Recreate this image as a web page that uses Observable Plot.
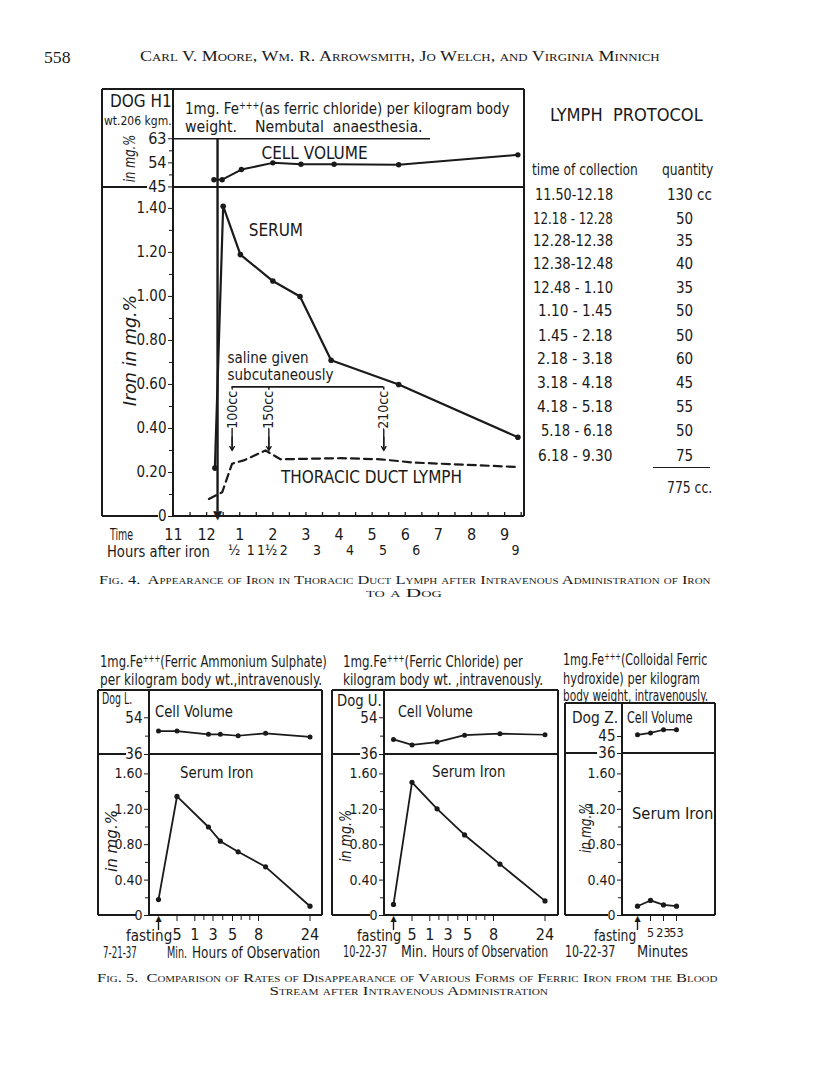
<!DOCTYPE html>
<html><head><meta charset="utf-8">
<script src="https://cdn.jsdelivr.net/npm/d3@7"></script>
<script src="https://cdn.jsdelivr.net/npm/@observablehq/plot@0.6"></script>
<style>
body{margin:0;background:#fff;}
#page{position:relative;width:816px;height:1078px;overflow:hidden;background:#fff;color:#1a1a1a;}
.abs{position:absolute;white-space:pre;line-height:1;}
.ln{position:absolute;background:#1a1a1a;}
sup{font-size:0.6em;vertical-align:0.55em;line-height:0;}
</style></head><body><div id="page"></div>
<script>
// ---------------- DATA ----------------
// Fig. 4 — Dog H1 (clock time in hours, 24 h)
const fig4CellTime   = [12.22, 12.47, 13.05, 14.0, 14.85, 15.85, 17.8, 21.4];
const fig4CellVolume = [47.7, 47.7, 51.5, 54.0, 53.5, 53.5, 53.3, 57.0];
const fig4SerumTime  = [12.25, 12.5, 13.02, 14.0, 14.82, 15.76, 17.8, 21.4];
const fig4SerumIron  = [0.22, 1.41, 1.19, 1.07, 1.00, 0.71, 0.60, 0.36];
const fig4LymphTime  = [12.07, 12.47, 12.77, 13.12, 13.78, 14.23, 16.05, 17.25, 18.26, 21.4];
const fig4LymphIron  = [0.08, 0.11, 0.24, 0.255, 0.30, 0.26, 0.265, 0.26, 0.245, 0.225];
const ironGivenAt = 12.33;
const salineTime = [12.77, 13.88, 17.35];
const salineLabels = ["100cc", "150cc", "210cc"];
const clockTicks = [11, 12, 13, 14, 15, 16, 17, 18, 19, 20, 21];
const clockLabels = ["11", "12", "1", "2", "3", "4", "5", "6", "7", "8", "9"];
const hoursAfterIron = [0.5, 1, 1.5, 2, 3, 4, 5, 6, 9];
const hoursAfterIronLabels = ["½", "1", "1½", "2", "3", "4", "5", "6", "9"];
const fig4CellTicks = [45, 54, 63];
const fig4SerumTicks = [0, 0.2, 0.4, 0.6, 0.8, 1.0, 1.2, 1.4];

// Lymph protocol
const protocolPeriods = ["11.50-12.18", "12.18 - 12.28", "12.28-12.38", "12.38-12.48", "12.48 - 1.10", "1.10 - 1.45", "1.45 - 2.18", "2.18 - 3.18", "3.18 - 4.18", "4.18 - 5.18", "5.18 - 6.18", "6.18 - 9.30"];
const protocolQuantity = ["130 cc", "50", "35", "40", "35", "50", "50", "60", "45", "55", "50", "75"];
const protocolTotal = "775 cc.";

// Fig. 5 — hours of observation (-1 = fasting)
const fastingHour = -1;
const obsTicks = [5 / 60, 1, 3, 5, 8, 24];
const obsTickLabels = ["5", "1", "3", "5", "8", "24"];
const obsMinorTicks = [2, 4, 6, 7];
const dogLTime  = [-1, 5 / 60, 2.5, 3.75, 5.65, 10.2, 24];
const dogLCell  = [47.5, 47.5, 45.9, 45.9, 45.2, 46.4, 44.6];
const dogLSerum = [0.18, 1.345, 1.0, 0.84, 0.72, 0.55, 0.105];
const dogUTime  = [-1, 5 / 60, 1.8, 4.7, 10, 24];
const dogUCell  = [43.4, 40.7, 42.1, 45.5, 46.2, 45.7];
const dogUSerum = [0.125, 1.505, 1.205, 0.91, 0.58, 0.165];
const dogZMinutes = ["fasting", "5", "23", "53"];
const dogZCell  = [45.9, 46.9, 48.6, 48.6];
const dogZSerum = [0.105, 0.17, 0.12, 0.105];
const fig5SerumTicks = [0, 0.4, 0.8, 1.2, 1.6];
const fig5SerumMinor = [0.2, 0.6, 1.0, 1.4];

// ---------------- HELPERS ----------------
const INK = "#1a1a1a";
const HAND = '"Liberation Sans Narrow","DejaVu Sans Condensed","Arial Narrow","Liberation Sans",sans-serif';
const SERIF = '"Liberation Serif","DejaVu Serif",serif';
const page = document.getElementById("page");
const STYLE = {background: "transparent", overflow: "visible", fontFamily: HAND, fontSize: "15px", color: INK};
const rows = (xs, ys) => xs.map((x, i) => ({x, y: ys[i]}));
const fmtIron = d => d === 0 ? "0" : d.toFixed(2);

function txt(html, x, y, o = {}) {
  const size = o.size ?? 14;
  const el = document.createElement("div");
  el.className = "abs";
  el.innerHTML = html;
  el.style.fontSize = size + "px";
  el.style.fontFamily = o.family ?? HAND;
  if (o.italic) el.style.fontStyle = "italic";
  if (o.weight) el.style.fontWeight = o.weight;
  if (o.sc) el.style.fontVariant = "small-caps";
  page.appendChild(el);
  const w0 = el.offsetWidth, h0 = el.offsetHeight;
  const k = o.w ? o.w / w0 : 1;
  const anchor = o.anchor ?? "start";
  if (o.rotate) {
    el.style.left = (x - w0 / 2) + "px";
    el.style.top = (y - h0 / 2) + "px";
    el.style.transformOrigin = "50% 50%";
    el.style.transform = `rotate(${o.rotate}deg) scaleX(${k})`;
  } else {
    const left = anchor === "start" ? x : anchor === "middle" ? x - w0 / 2 : x - w0;
    el.style.left = left + "px";
    el.style.top = (y - h0 / 2) + "px";
    el.style.transformOrigin = anchor === "start" ? "0 50%" : anchor === "middle" ? "50% 50%" : "100% 50%";
    if (k !== 1) el.style.transform = `scaleX(${k})`;
  }
  return el;
}
function hline(x1, x2, y, w = 1.7) {
  const d = document.createElement("div"); d.className = "ln";
  Object.assign(d.style, {left: x1 + "px", top: (y - w / 2) + "px", width: (x2 - x1) + "px", height: w + "px"});
  page.appendChild(d);
}
function vline(x, y1, y2, w = 1.7) {
  const d = document.createElement("div"); d.className = "ln";
  Object.assign(d.style, {left: (x - w / 2) + "px", top: y1 + "px", width: w + "px", height: (y2 - y1) + "px"});
  page.appendChild(d);
}
function put(svg, left, top) {
  svg.style.position = "absolute";
  svg.style.left = left + "px";
  svg.style.top = top + "px";
  page.appendChild(svg);
}

// ---------------- PAGE HEADER ----------------
txt("558", 44, 57, {size: 17, family: SERIF, w: 27});
txt("Carl V. Moore, Wm. R. Arrowsmith, Jo Welch, and Virginia Minnich", 140, 57, {size: 14, family: SERIF, sc: true, w: 520});

// ---------------- FIG. 4 ----------------
hline(102, 524, 89);
vline(102, 89, 516);
vline(524, 89, 516);
vline(173, 89, 516);
hline(102, 147, 187); hline(173, 524, 187);
hline(102, 158, 516); hline(173, 524, 516);

const cellRows4 = rows(fig4CellTime, fig4CellVolume);
const serumRows4 = rows(fig4SerumTime, fig4SerumIron);
const lymphRows4 = rows(fig4LymphTime, fig4LymphIron);

put(Plot.plot({
  width: 422, height: 98, marginLeft: 71, marginRight: 0, marginTop: 0, marginBottom: 0,
  x: {domain: [11, 21.6], axis: null}, y: {domain: [44.8, 81.4], label: null},
  style: STYLE,
  marks: [
    Plot.axisY({ticks: fig4CellTicks, tickSize: 5, tickPadding: 2, fontSize: 16, label: null}),
    Plot.axisY({ticks: [49.5, 58.5], tickFormat: () => "", tickSize: 4, label: null}),
    Plot.ruleY([63], {x1: 11, x2: 18.76, strokeWidth: 1.6, stroke: INK}),
    Plot.ruleX([ironGivenAt], {y1: 63, y2: 44.8, strokeWidth: 2.4, stroke: INK}),
    Plot.line(cellRows4, {x: "x", y: "y", strokeWidth: 2, stroke: INK}),
    Plot.dot(cellRows4, {x: "x", y: "y", r: 2.7, fill: INK}),
    Plot.text(["CELL VOLUME"], {x: [15.26], y: [57.4], fontSize: 17, fill: INK})
  ]
}), 102, 89);

put(Plot.plot({
  width: 422, height: 379, marginLeft: 71, marginRight: 0, marginTop: 0, marginBottom: 50,
  x: {domain: [11, 21.6]}, y: {domain: [0, 1.495], label: null},
  style: STYLE,
  marks: [
    Plot.axisY({ticks: fig4SerumTicks, tickFormat: fmtIron, tickSize: 5, tickPadding: 2, fontSize: 15, label: null}),
    Plot.axisY({ticks: d3.range(0.1, 1.45, 0.2), tickFormat: () => "", tickSize: 4, label: null}),
    Plot.axisX({ticks: clockTicks, tickFormat: d => clockLabels[clockTicks.indexOf(d)], tickSize: 0, tickPadding: 12, fontSize: 16, label: null}),
    Plot.axisX({ticks: hoursAfterIron.map(h => ironGivenAt + h), tickFormat: d => hoursAfterIronLabels[d3.minIndex(hoursAfterIron, h => Math.abs(ironGivenAt + h - d))], tickSize: 0, tickPadding: 29, fontSize: 14, label: null}),
    Plot.ruleX(d3.range(11.5, 21.6, 0.5), {y1: 0, y2: 0.018, strokeWidth: 1.3, stroke: INK}),
    Plot.ruleX([ironGivenAt], {y1: 0.02, y2: 1.495, strokeWidth: 2.4, stroke: INK}),
    Plot.text(["▼"], {x: [ironGivenAt], y: [0], lineAnchor: "bottom", fontSize: 12, fontFamily: "DejaVu Sans", fill: INK, dy: 2}),
    // saline given subcutaneously
    Plot.ruleY([0.589], {x1: salineTime[0], x2: salineTime[2], strokeWidth: 1.6, stroke: INK}),
    Plot.ruleX(salineTime, {y1: 0.589, y2: 0.31, strokeWidth: 1.4, stroke: INK}),
    Plot.arrow(salineTime, {x1: d => d, x2: d => d, y1: 0.36, y2: 0.30, headLength: 7, strokeWidth: 1.4, stroke: INK}),
    Plot.text(salineTime, {x: d => d, y: 0.485, text: (d, i) => salineLabels[i], rotate: -90, fontSize: 14, stroke: "white", strokeWidth: 5, fill: INK}),
    Plot.text(["saline given"], {x: [12.63], y: [0.72], textAnchor: "start", fontSize: 15, fill: INK}),
    Plot.text(["subcutaneously"], {x: [12.63], y: [0.64], textAnchor: "start", fontSize: 15, fill: INK}),
    // curves
    Plot.line(lymphRows4, {x: "x", y: "y", strokeWidth: 2.2, strokeDasharray: "8,5", stroke: INK}),
    Plot.line(serumRows4, {x: "x", y: "y", strokeWidth: 2.2, stroke: INK}),
    Plot.dot(serumRows4, {x: "x", y: "y", r: 2.8, fill: INK}),
    Plot.text(["SERUM"], {x: [13.27], y: [1.30], textAnchor: "start", fontSize: 17, fill: INK}),
    Plot.text(["THORACIC DUCT LYMPH"], {x: [16.98], y: [0.175], fontSize: 17, fill: INK})
  ]
}), 102, 187);

txt("DOG H1", 110, 101, {size: 17, w: 62});
txt("wt.206 kgm.", 104, 121, {size: 12, w: 68});
txt("in mg.%", 130, 158, {size: 15, italic: true, rotate: -90, w: 47});
txt("Iron in mg.%", 131, 350, {size: 17, italic: true, rotate: -90, w: 112});
txt("1mg. Fe<sup>+++</sup>(as ferric chloride) per kilogram body", 185, 109, {size: 16, w: 325});
txt("weight.    Nembutal  anaesthesia.", 185, 127, {size: 16, w: 238});
txt("Time", 110, 535, {size: 16, w: 23});
txt("Hours after iron", 107, 552, {size: 16, w: 103});

// Lymph protocol
txt("LYMPH  PROTOCOL", 550, 115, {size: 17, w: 153});
txt("time of collection", 532, 170, {size: 15, w: 106});
txt("quantity", 662, 170, {size: 15, w: 51});
const protocolRowY = [195, 219, 241.7, 264, 288, 311.7, 336, 359.5, 383, 407.5, 431.5, 456];
const protocolLeft = [535, 533, 533, 533, 533, 538, 538, 537, 537, 537, 541, 538];
protocolPeriods.forEach((p, i) => txt(p, protocolLeft[i], protocolRowY[i], {size: 15, w: 613 - protocolLeft[i]}));
protocolQuantity.forEach((q, i) => i === 0
  ? txt(q, 667, protocolRowY[i], {size: 15, w: 45})
  : txt(q, 684.5, protocolRowY[i], {size: 15, anchor: "middle"}));
hline(653, 710, 467.7, 1.5);
txt(protocolTotal, 667, 488, {size: 15, w: 45});

txt("Fig. 4.  Appearance of Iron in Thoracic Duct Lymph after Intravenous Administration of Iron", 99, 580, {size: 13.5, family: SERIF, sc: true, w: 612});
txt("to a Dog", 404, 593, {size: 13.5, family: SERIF, sc: true, anchor: "middle", w: 76});

// ---------------- FIG. 5 ----------------
const obsOffsets = [0, 9, 27.5, 45.3, 63.5, 83, 109, 160.5];
function obsX(mL, frameW) {
  return {
    type: "linear",
    domain: [-1.53, fastingHour, 5 / 60, 1, 3, 5, 8, 24, 24 + (frameW - 160.5) / 3.22],
    range: [...obsOffsets, frameW].map(o => mL + o)
  };
}

function panel({left, axis, right, top, divider, bottom, label36End, label0End, x, cell, serum, cellTop, cellTicks, cellMinor, xTicks, xTickFormat, xMinor, xFont, fasting}) {
  hline(left, right, top);
  vline(left, top, bottom);
  vline(right, top, bottom);
  vline(axis, top, bottom);
  hline(left, label36End, divider); hline(axis, right, divider);
  hline(left, label0End, bottom); hline(axis, right, bottom);
  const width = right - left, mL = axis - left;
  const xs = x(mL, right - axis);
  put(Plot.plot({
    width, height: divider - top, marginLeft: mL, marginRight: 0, marginTop: 0, marginBottom: 0,
    x: {...xs, axis: null}, y: {domain: [36, cellTop], label: null}, style: STYLE,
    marks: [
      Plot.axisY({ticks: cellTicks, tickSize: 5, tickPadding: 2, fontSize: 15, label: null}),
      Plot.axisY({ticks: cellMinor, tickFormat: () => "", tickSize: 4, label: null}),
      Plot.line(cell, {x: "x", y: "y", strokeWidth: 1.7, stroke: INK}),
      Plot.dot(cell, {x: "x", y: "y", r: 2.5, fill: INK})
    ]
  }), left, top);
  const h = bottom - divider;
  put(Plot.plot({
    width, height: h + 48, marginLeft: mL, marginRight: 0, marginTop: 0, marginBottom: 48,
    x: xs, y: {domain: [0, h / 88.5], label: null}, style: STYLE,
    marks: [
      Plot.axisY({ticks: fig5SerumTicks, tickFormat: fmtIron, tickSize: 5, tickPadding: 2, fontSize: 14, label: null}),
      Plot.axisY({ticks: fig5SerumMinor, tickFormat: () => "", tickSize: 4, label: null}),
      Plot.axisX({ticks: xTicks, tickFormat: xTickFormat, tickSize: 6, tickPadding: 7, fontSize: xFont, label: null}),
      xMinor.length ? Plot.axisX({ticks: xMinor, tickFormat: () => "", tickSize: 5, label: null}) : null,
      Plot.ruleX([fasting], {y1: -0.17, y2: -0.04, strokeWidth: 1.4, stroke: INK}),
      Plot.text(["▲"], {x: [fasting], y: [0], lineAnchor: "top", fontSize: 8, fontFamily: "DejaVu Sans", fill: INK}),
      Plot.line(serum, {x: "x", y: "y", strokeWidth: 1.8, stroke: INK}),
      Plot.dot(serum, {x: "x", y: "y", r: 2.6, fill: INK})
    ]
  }), left, divider);
}

const obsFormat = d => obsTickLabels[d3.minIndex(obsTicks, t => Math.abs(t - d))];

panel({left: 98, axis: 149, right: 322, top: 690, divider: 754, bottom: 915, label36End: 126, label0End: 136,
  x: obsX, cell: rows(dogLTime, dogLCell), serum: rows(dogLTime, dogLSerum), cellTop: 67.4,
  cellTicks: [36, 54], cellMinor: [45], xTicks: obsTicks, xTickFormat: obsFormat, xMinor: obsMinorTicks, xFont: 16, fasting: fastingHour});
panel({left: 332, axis: 384, right: 558, top: 690, divider: 754, bottom: 915, label36End: 360, label0End: 370,
  x: obsX, cell: rows(dogUTime, dogUCell), serum: rows(dogUTime, dogUSerum), cellTop: 67.4,
  cellTicks: [36, 54], cellMinor: [45], xTicks: obsTicks, xTickFormat: obsFormat, xMinor: obsMinorTicks, xFont: 16, fasting: fastingHour});
panel({left: 565, axis: 622, right: 715, top: 703, divider: 753, bottom: 915, label36End: 597, label0End: 608,
  x: (mL) => ({type: "point", domain: dogZMinutes, range: [mL + 7, mL + 62]}),
  cell: rows(dogZMinutes, dogZCell), serum: rows(dogZMinutes, dogZSerum), cellTop: 62.5,
  cellTicks: [36, 45], cellMinor: [], xTicks: dogZMinutes.slice(1), xTickFormat: d => d, xMinor: [], xFont: 12.5, fasting: dogZMinutes[0]});

txt("1mg.Fe<sup>+++</sup>(Ferric Ammonium Sulphate)", 100, 662, {size: 16, w: 227});
txt("per kilogram body wt.,intravenously.", 100, 680, {size: 16, w: 222});
txt("Dog L.", 102, 699, {size: 15, w: 30});
txt("Cell Volume", 155, 712, {size: 16, w: 78});
txt("Serum Iron", 180, 773, {size: 16, w: 73});
txt("in mg.%", 111, 841, {size: 16, italic: true, rotate: -90, w: 62});
txt("fasting", 126, 936, {size: 16, w: 46});
txt("7-21-37", 103, 953, {size: 15, w: 34});
txt("Min.", 167, 953, {size: 15, w: 20});
txt("Hours of Observation", 192, 953, {size: 15, w: 128});

txt("1mg.Fe<sup>+++</sup>(Ferric Chloride) per", 343, 662, {size: 16, w: 180});
txt("kilogram body wt. ,intravenously.", 343, 680, {size: 16, w: 200});
txt("Dog U.", 337, 701, {size: 15, w: 45});
txt("Cell Volume", 398, 712, {size: 16, w: 75});
txt("Serum Iron", 432, 772, {size: 16, w: 73});
txt("in mg.%", 345, 836, {size: 16, italic: true, rotate: -90, w: 52});
txt("fasting", 357, 936, {size: 16, w: 44});
txt("10-22-37", 343, 952, {size: 15, w: 44});
txt("Min.", 401, 952, {size: 15, w: 26});
txt("Hours of Observation", 432, 952, {size: 15, w: 116});

txt("1mg.Fe<sup>+++</sup>(Colloidal Ferric", 563, 660, {size: 16, w: 144});
txt("hydroxide) per kilogram", 563, 679, {size: 16, w: 137});
txt("body weight, intravenously.", 563, 696, {size: 16, w: 145});
txt("Dog Z.", 572, 718, {size: 15, w: 46});
txt("Cell Volume", 627, 718, {size: 15, w: 66});
txt("Serum Iron", 632, 814, {size: 16, w: 81});
txt("in mg.%", 585, 828, {size: 16, italic: true, rotate: -90, w: 50});
txt("fasting", 594, 936, {size: 16, w: 42});
txt("10-22-37", 565, 952, {size: 15, w: 50});
txt("Minutes", 637, 952, {size: 15, w: 51});

txt("Fig. 5.  Comparison of Rates of Disappearance of Various Forms of Ferric Iron from the Blood", 97, 978, {size: 13.5, family: SERIF, sc: true, w: 621});
txt("Stream after Intravenous Administration", 408, 991, {size: 13.5, family: SERIF, sc: true, anchor: "middle", w: 278});
</script></body></html>
